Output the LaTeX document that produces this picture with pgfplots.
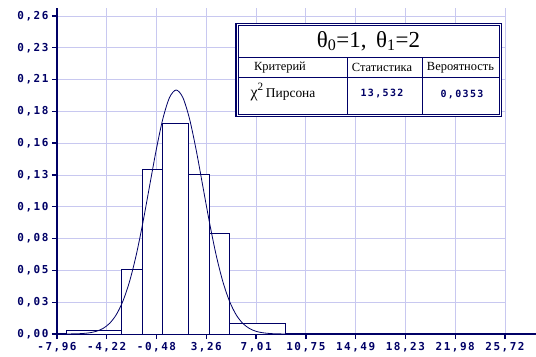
\documentclass[border=0pt]{standalone}
\usepackage{fontspec}
\setmainfont{Liberation Serif}
\newfontfamily\tickfont[LetterSpace=14]{DejaVu Sans Mono}
\usepackage{pgfplots}
\pgfplotsset{compat=1.18}
\definecolor{navy}{RGB}{0,0,102}
\definecolor{gridc}{RGB}{200,200,240}
\begin{document}
\begin{tikzpicture}[x=1bp,y=1bp]
\useasboundingbox (-57,-22) rectangle (479,334);
\begin{axis}[at={(0,0)}, anchor=south west, scale only axis,
  width=448bp, height=326bp,
  xmin=-7.96, xmax=25.72, ymin=0, ymax=0.2665,
  axis x line*=bottom, axis y line*=left,
  x axis line style={-, navy, line width=1.8bp, shorten >=-31bp},
  y axis line style={-, navy, line width=1.2bp},
  grid=major, major grid style={gridc, line width=0.9bp},
  tick align=outside, major tick length=5bp,
  every tick/.style={navy, line width=1.4bp},
  xtick={-7.96,-4.22,-0.48,3.26,7.01,10.75,14.49,18.23,21.98,25.72},
  xticklabels={{-7,96},{-4,22},{-0,48},{3,26},{7,01},{10,75},{14,49},{18,23},{21,98},{25,72}},
  ytick={0,0.026,0.052,0.078,0.104,0.13,0.156,0.182,0.208,0.234,0.26},
  yticklabels={{0,00},{0,03},{0,05},{0,08},{0,10},{0,13},{0,16},{0,18},{0,21},{0,23},{0,26}},
  ticklabel style={font=\tickfont\bfseries\fontsize{11}{11}\selectfont, text=navy},
  clip=false,
]
\addplot[ybar interval, fill=white, draw=navy, line width=0.8bp] coordinates {
  (-7.96,0.0008) (-7.28,0.0033) (-3.15,0.0529) (-1.55,0.1347) (-0.05,0.1723)
  (1.94,0.1306) (3.48,0.0823) (4.99,0.0087) (9.22,0.0005) (19.69,0.0005)};
\addplot[navy, line width=0.8bp, smooth] coordinates {
  (-7.96,0.00001) (-7,0.00007) (-6.5,0.00018) (-6,0.00044) (-5.5,0.00102)
  (-5,0.00222) (-4.5,0.00455) (-4,0.00876) (-3.5,0.01587) (-3,0.02700)
  (-2.5,0.04314) (-2,0.06476) (-1.5,0.09132) (-1,0.12099) (-0.5,0.15057)
  (0,0.17603) (0.5,0.19333) (1,0.19947) (1.5,0.19333) (2,0.17603)
  (2.5,0.15057) (3,0.12099) (3.5,0.09132) (4,0.06476) (4.5,0.04314)
  (5,0.02700) (5.5,0.01587) (6,0.00876) (6.5,0.00455) (7,0.00222)
  (7.5,0.00102) (8,0.00044) (8.5,0.00018) (9,0.00007) (10,0.00001) (12,0)};
\end{axis}
% results table
\draw[navy, line width=1.2bp, fill=white] (179,217.3) rectangle (444.7,310.7);
\draw[navy, line width=1bp] (181.5,219.7) rectangle (442.2,308.3);
\draw[navy, line width=1bp] (181.5,276.7) -- (442.2,276.7);
\draw[navy, line width=1bp] (181.5,256.7) -- (442.2,256.7);
\draw[navy, line width=1bp] (290.3,219.7) -- (290.3,276.7);
\draw[navy, line width=1bp] (365.3,219.7) -- (365.3,276.7);
\node[font=\fontsize{23}{23}\selectfont] at (311.5,293) {θ\textsubscript{0}=1,\, θ\textsubscript{1}=2};
\node[font=\fontsize{12.5}{12.5}\selectfont] at (223,266.5) {Критерий};
\node[font=\fontsize{12.5}{12.5}\selectfont] at (325,266.5) {Статистика};
\node[font=\fontsize{12.5}{12.5}\selectfont] at (403.5,266.5) {Вероятность};
\node[font=\fontsize{13.5}{13.5}\selectfont, anchor=west] at (190,242) {\fontsize{16}{16}\selectfont χ\textsuperscript{2}\fontsize{13.5}{13.5}\selectfont\,Пирсона};
\node[font=\tickfont\bfseries\fontsize{10}{10}\selectfont, text=navy] at (325,241) {13,532};
\node[font=\tickfont\bfseries\fontsize{10}{10}\selectfont, text=navy] at (405,240) {0,0353};
\end{tikzpicture}
\end{document}
